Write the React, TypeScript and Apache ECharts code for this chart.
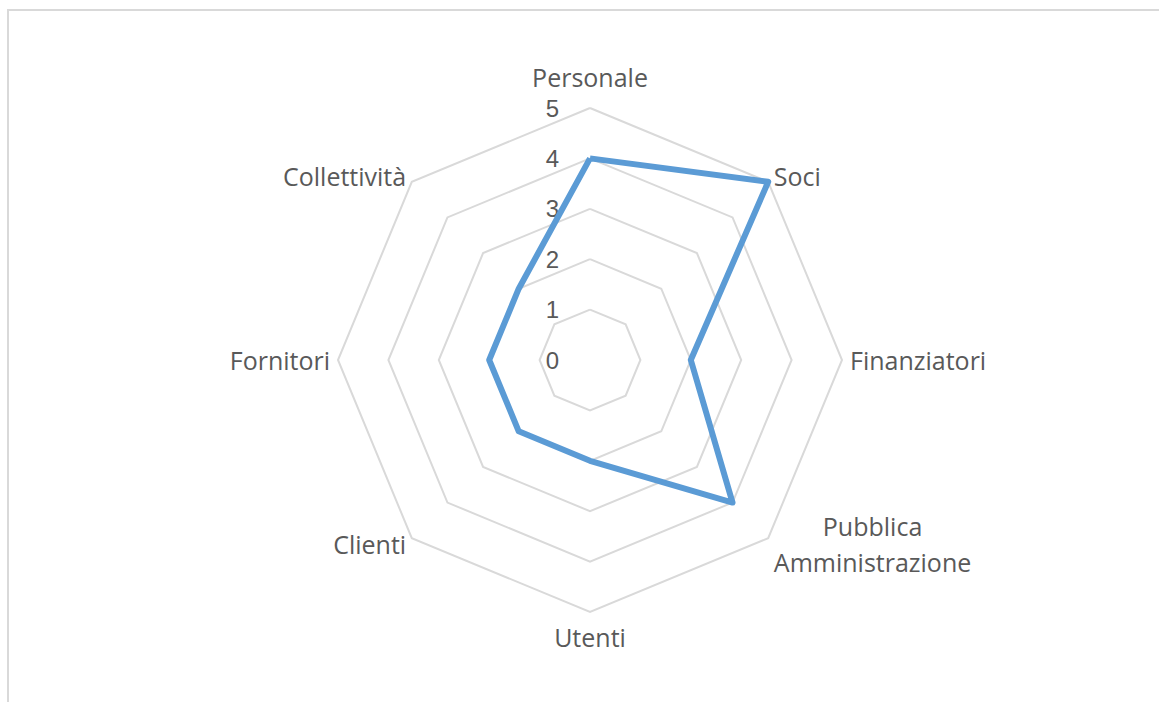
import React, { useEffect, useRef } from "react";
import * as echarts from "echarts";

const categories = [
  "Personale",
  "Soci",
  "Finanziatori",
  "Pubblica\nAmministrazione",
  "Utenti",
  "Clienti",
  "Fornitori",
  "Collettività",
];
const values = [4, 5, 2, 4, 2, 2, 2, 2];
const axisMin = 0;
const axisMax = 5;
const tickCount = 5;

export default function App() {
  const ref = useRef<HTMLDivElement>(null);
  useEffect(() => {
    document.body.style.margin = "0";
    if (!ref.current) return;
    const chart = echarts.init(ref.current, undefined, { renderer: "svg" });
    // ECharts lays radar indicators counter-clockwise; Excel goes clockwise.
    const order = [0, ...categories.slice(1).map((_, i) => categories.length - 1 - i)];
    const indicator = order.map((idx, k) => ({
      name: categories[idx],
      min: axisMin,
      max: axisMax,
      ...(k === 0 ? { axisLabel: { show: true } } : {}),
    }));
    const data = order.map((idx) => values[idx]);
    const font = "'Open Sans', 'Noto Sans', sans-serif";
    const labelFont = "'Liberation Sans', Arial, sans-serif";
    const nameStyle = (lineHeight: number) => ({
      align: "center",
      color: "#595959",
      fontSize: 25,
      fontFamily: font,
      lineHeight,
    });
    chart.setOption({
      animation: false,
      graphic: [
        {
          type: "rect",
          shape: { x: 8, y: 10, width: 1300, height: 900 },
          style: { fill: "none", stroke: "#d9d9d9", lineWidth: 2 },
          silent: true,
        },
      ],
      radar: {
        center: [590, 360],
        radius: 252,
        startAngle: 90,
        splitNumber: tickCount,
        shape: "polygon",
        nameGap: 8,
        axisName: {
          color: "#595959",
          fontSize: 25,
          fontFamily: font,
          formatter: (name: string) => {
            const lines = name.split("\n");
            const style = lines.length > 1 ? "m" : name === categories[0] ? "t" : "s";
            return lines.map((l) => `{${style}|${l}}`).join("\n");
          },
          rich: {
            t: nameStyle(46),
            s: nameStyle(34),
            m: nameStyle(36),
          },
        },
        axisLine: { show: false },
        axisTick: { show: false },
        axisLabel: {
          show: false,
          color: "#595959",
          fontSize: 24,
          fontFamily: labelFont,
          margin: 31,
        },
        splitLine: { lineStyle: { color: "#d9d9d9", width: 2 } },
        splitArea: { show: false },
        indicator,
      },
      series: [
        {
          type: "radar",
          symbol: "none",
          lineStyle: { color: "#5b9bd5", width: 6, join: "round" },
          itemStyle: { color: "#5b9bd5" },
          data: [{ value: data, name: "Valutazione" }],
        },
      ],
    });
    return () => chart.dispose();
  }, []);
  return <div ref={ref} style={{ width: 1159, height: 702 }} />;
}
